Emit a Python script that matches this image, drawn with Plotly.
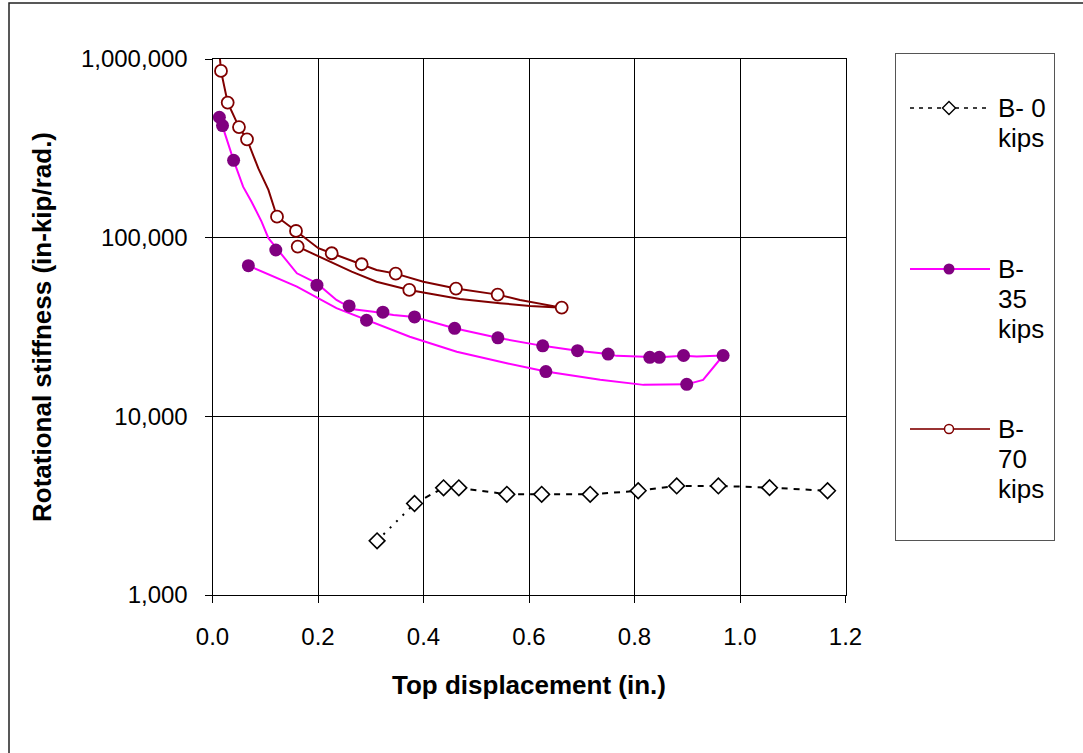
import plotly.graph_objects as go

# ---------------- data ----------------
b0_x = [0.312, 0.383, 0.438, 0.467, 0.558, 0.624, 0.716, 0.807, 0.880, 0.959, 1.056, 1.166]
b0_y = [2010, 3250, 3980, 3980, 3660, 3660, 3660, 3830, 4080, 4080, 3990, 3830]

b35_x = [0.013, 0.019, 0.040, 0.068, 0.120, 0.198, 0.259, 0.292, 0.323, 0.383, 0.459, 0.541,
         0.626, 0.632, 0.692, 0.750, 0.829, 0.847, 0.893, 0.899, 0.968]
b35_y = [472000, 424000, 271000, 69700, 85300, 54200, 41500, 34500, 38300, 36000, 31100, 27500,
         24800, 17800, 23300, 22300, 21400, 21400, 21900, 15100, 21900]

b35_curve_x = [0.0186, 0.040, 0.058, 0.074, 0.093, 0.106, 0.160, 0.1975, 0.235, 0.267, 0.305, 0.343,
               0.383, 0.4585, 0.5406, 0.626, 0.692, 0.750, 0.766, 0.829, 0.847, 0.8925, 0.918, 0.968,
               0.930, 0.899, 0.817, 0.735, 0.632, 0.558, 0.463, 0.374, 0.292, 0.235, 0.160, 0.068]
b35_curve_y = [424000, 271000, 193000, 159000, 123000, 99300, 63200, 55600, 44800, 39700, 38500, 36900,
               36000, 31100, 27500, 24800, 23300, 22300, 21800, 21400, 21400, 21800, 21600, 21900,
               16000, 15100, 15000, 16000, 17800, 19800, 23000, 27900, 34500, 40300, 53200, 69700]

b70_x = [0.0161, 0.0288, 0.0502, 0.0654, 0.1223, 0.1583, 0.1615, 0.226, 0.2828, 0.3473, 0.3731,
         0.4616, 0.5406, 0.662]
b70_y = [857000, 570000, 416000, 355000, 131000, 109000, 89100, 81800, 71000, 62900, 51000,
         51900, 48000, 40600]

b70_curve_x = [0.0125, 0.0161, 0.0288, 0.0395, 0.0502, 0.0654, 0.0869, 0.106, 0.1223, 0.1583, 0.2006,
               0.226, 0.2828, 0.311, 0.3473, 0.3997, 0.4616, 0.5406, 0.583, 0.662, 0.646, 0.602,
               0.545, 0.469, 0.3731, 0.311, 0.2638, 0.2227, 0.1615]
b70_curve_y = [1150000, 857000, 570000, 486000, 416000, 355000, 244000, 185000, 131000, 109000, 87300,
               81800, 71000, 65900, 62900, 56700, 51900, 48000, 44800, 40600, 40800, 41500,
               43000, 45400, 51000, 56700, 64500, 73400, 89100]

x_ticks = [0.0, 0.2, 0.4, 0.6, 0.8, 1.0, 1.2]
y_ticks = [1000, 10000, 100000, 1000000]
y_tick_text = ["1,000", "10,000", "100,000", "1,000,000"]

legend_lines = [["B- 0", "kips"], ["B-", "35", "kips"], ["B-", "70", "kips"]]

# ---------------- styling ----------------
FONT = "Liberation Sans, Arial, sans-serif"
W, H = 1083, 753
PL, PR, PT, PB = 212.5, 845.5, 59, 595          # plot area in px
LG_L, LG_R, LG_T, LG_B = 896, 1054, 54, 540     # legend box in px

MAROON = "#800000"
PURPLE = "#800080"
MAGENTA = "#FF00FF"

fig = go.Figure()

# B-0 kips: dotted first segment, dashed remainder
fig.add_trace(go.Scatter(x=b0_x[:2], y=b0_y[:2], mode="lines",
                         line=dict(color="black", width=2, dash="2px,7px"),
                         showlegend=False, hoverinfo="skip"))
fig.add_trace(go.Scatter(x=b0_x[1:], y=b0_y[1:], mode="lines",
                         line=dict(color="black", width=2, dash="6px,6px"),
                         showlegend=False, hoverinfo="skip"))
fig.add_trace(go.Scatter(x=b0_x, y=b0_y, mode="markers", name="B- 0 kips",
                         marker=dict(symbol="diamond", size=12, color="white",
                                     line=dict(color="black", width=1.6)),
                         showlegend=False))

# B-35 kips
fig.add_trace(go.Scatter(x=b35_curve_x, y=b35_curve_y, mode="lines",
                         line=dict(color=MAGENTA, width=2),
                         showlegend=False, hoverinfo="skip"))
fig.add_trace(go.Scatter(x=b35_x, y=b35_y, mode="markers", name="B-35 kips",
                         marker=dict(symbol="circle", size=13, color=PURPLE,
                                     line=dict(color=PURPLE, width=0)),
                         showlegend=False))

# B-70 kips
fig.add_trace(go.Scatter(x=b70_curve_x, y=b70_curve_y, mode="lines",
                         line=dict(color=MAROON, width=2),
                         showlegend=False, hoverinfo="skip"))
fig.add_trace(go.Scatter(x=b70_x, y=b70_y, mode="markers", name="B-70 kips",
                         marker=dict(symbol="circle", size=12, color="white",
                                     line=dict(color=MAROON, width=1.8)),
                         showlegend=False))

# ---------------- manual legend (on its own small axis) ----------------
leg_rows = [108, 269, 429]
leg_styles = [
    dict(line=dict(color="black", width=1.5, dash="4px,5px"),
         marker=dict(symbol="diamond", size=10, color="white", line=dict(color="black", width=1.4))),
    dict(line=dict(color=MAGENTA, width=2),
         marker=dict(symbol="circle", size=11, color=PURPLE, line=dict(width=0))),
    dict(line=dict(color="#993333", width=2),
         marker=dict(symbol="circle", size=9, color="white", line=dict(color=MAROON, width=1.5))),
]
for yrow, st in zip(leg_rows, leg_styles):
    fig.add_trace(go.Scatter(x=[910, 990], y=[yrow, yrow], mode="lines", line=st["line"],
                             xaxis="x2", yaxis="y2", showlegend=False, hoverinfo="skip"))
    fig.add_trace(go.Scatter(x=[949], y=[yrow], mode="markers", marker=st["marker"],
                             xaxis="x2", yaxis="y2", showlegend=False, hoverinfo="skip"))

annotations = []
for yrow, lines in zip(leg_rows, legend_lines):
    for k, txt in enumerate(lines):
        annotations.append(dict(x=996, y=yrow + 30 * k, xref="x2", yref="y2", text=txt,
                                showarrow=False, xanchor="left", yanchor="middle", align="left",
                                font=dict(family=FONT, size=26, color="black")))

axis_common = dict(showline=True, linecolor="black", linewidth=1, mirror=True,
                   showgrid=True, gridcolor="black", gridwidth=1,
                   ticks="outside", ticklen=7, tickcolor="black", tickwidth=1,
                   tickfont=dict(family=FONT, size=24, color="black"), zeroline=False)

fig.update_layout(
    width=W, height=H,
    margin=dict(l=0, r=0, t=0, b=0),
    paper_bgcolor="white", plot_bgcolor="white",
    font=dict(family=FONT, color="black"),
    xaxis=dict(domain=[PL / W, PR / W], range=[0, 1.2], tickvals=x_ticks, tickformat=".1f",
               title=dict(text="<b>Top displacement (in.)</b>",
                          font=dict(family=FONT, size=26, color="black"), standoff=27),
               ticklabelstandoff=13, automargin=False, **axis_common),
    yaxis=dict(domain=[(H - PB) / H, (H - PT) / H], type="log", range=[3, 6],
               tickvals=y_ticks, ticktext=y_tick_text,
               title=dict(text="<b>Rotational stiffness (in-kip/rad.)</b>",
                          font=dict(family=FONT, size=26, color="black"), standoff=21),
               ticklabelstandoff=12, automargin=False, **axis_common),
    xaxis2=dict(domain=[LG_L / W, LG_R / W], range=[LG_L, LG_R], visible=True,
                showline=True, mirror=True, linecolor="#555555", linewidth=1,
                showgrid=False, zeroline=False, showticklabels=False, ticks="",
                anchor="y2", fixedrange=True),
    yaxis2=dict(domain=[(H - LG_B) / H, (H - LG_T) / H], range=[LG_B, LG_T],
                showline=True, mirror=True, linecolor="#555555", linewidth=1,
                showgrid=False, zeroline=False, showticklabels=False, ticks="",
                anchor="x2", fixedrange=True),
    annotations=annotations,
    shapes=[dict(type="rect", xref="paper", yref="paper",
                 x0=9 / W, y0=-0.02, x1=1.02, y1=1 - 3 / H,
                 line=dict(color="#222222", width=1.5), fillcolor="rgba(0,0,0,0)", layer="below")],
    showlegend=False,
)

fig.write_html("out.html")
